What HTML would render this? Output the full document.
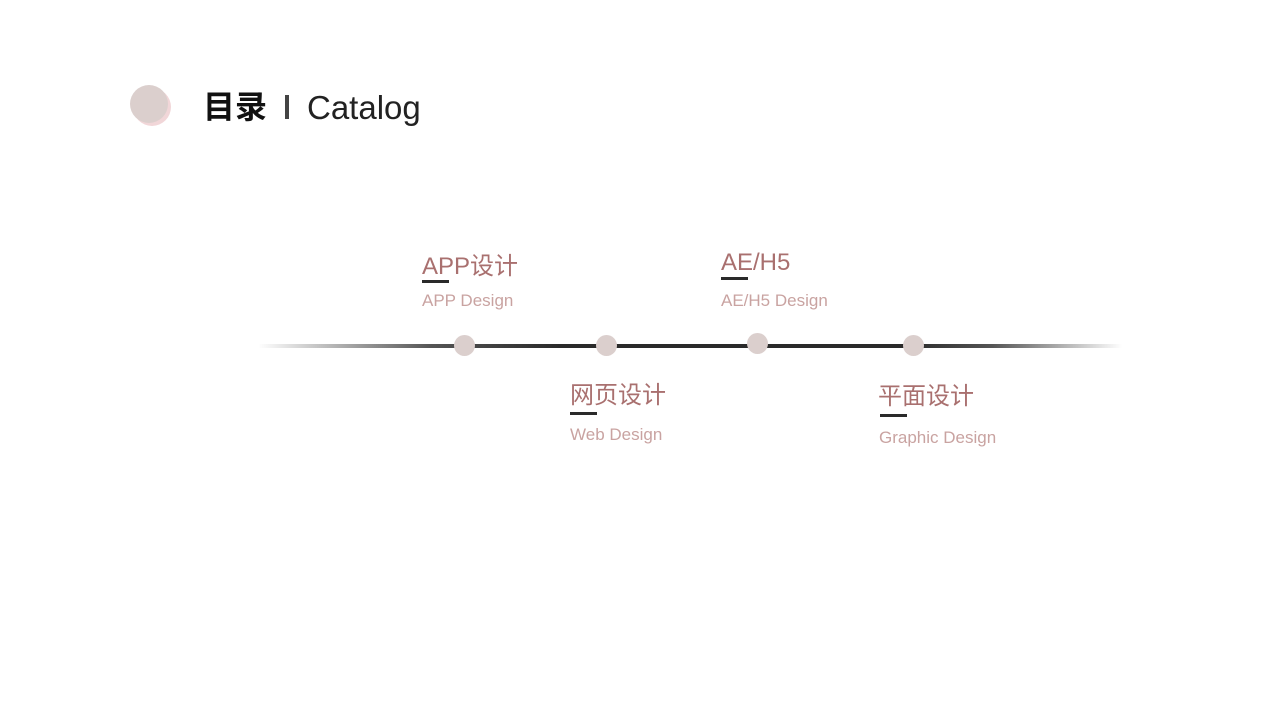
<!DOCTYPE html>
<html><head><meta charset="utf-8"><style>
html,body{margin:0;padding:0;background:#fff;}
body{width:1280px;height:720px;position:relative;overflow:hidden;font-family:"Liberation Sans","Noto Sans CJK SC",sans-serif;}
.a{position:absolute;white-space:nowrap;}
.t{color:#a9706f;font-size:24px;line-height:1;}
.s{color:#c9a3a1;font-size:17px;line-height:1;}
.u{position:absolute;height:3px;width:27px;background:#2a2a2a;}
.d{position:absolute;width:21px;height:21px;border-radius:50%;background:#dbcfcd;}
</style></head><body>
<div class="a" style="left:133px;top:88px;width:38px;height:38px;border-radius:50%;background:#f1d6d8;"></div>
<div class="a" style="left:130px;top:85px;width:38px;height:38px;border-radius:50%;background:#dbcfcd;"></div>
<div class="a" style="left:203px;top:91px;font-size:32px;font-weight:bold;color:#111;line-height:1;">目录</div>
<div class="a" style="left:285px;top:95px;width:4px;height:24px;background:#444;"></div>
<div class="a" style="left:307px;top:91px;font-size:33px;color:#222;line-height:1;">Catalog</div>

<div class="a" style="left:258px;top:344px;width:864px;height:4px;background:linear-gradient(to right,rgba(40,40,40,0) 0%,#555 20%,#2a2a2a 35%,#2a2a2a 75%,#555 85%,rgba(40,40,40,0) 100%);"></div>
<div class="d" style="left:454px;top:335px;"></div>
<div class="d" style="left:596px;top:335px;"></div>
<div class="d" style="left:747px;top:333px;"></div>
<div class="d" style="left:903px;top:335px;"></div>

<div class="a t" style="left:422px;top:255px;">APP设计</div>
<div class="u" style="left:422px;top:280px;"></div>
<div class="a s" style="left:422px;top:292px;">APP Design</div>

<div class="a t" style="left:721px;top:251px;">AE/H5</div>
<div class="u" style="left:721px;top:277px;"></div>
<div class="a s" style="left:721px;top:292px;">AE/H5 Design</div>

<div class="a t" style="left:570px;top:384px;">网页设计</div>
<div class="u" style="left:570px;top:412px;"></div>
<div class="a s" style="left:570px;top:426px;">Web Design</div>

<div class="a t" style="left:878px;top:385px;">平面设计</div>
<div class="u" style="left:880px;top:414px;"></div>
<div class="a s" style="left:879px;top:429px;">Graphic Design</div>
</body></html>
